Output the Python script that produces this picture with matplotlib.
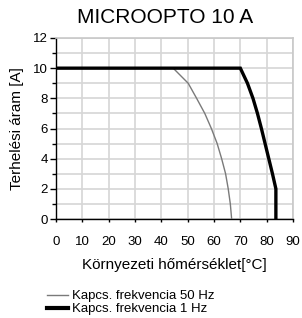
import numpy as np
import matplotlib
matplotlib.use("Agg")
import matplotlib.pyplot as plt
from matplotlib.lines import Line2D

plt.rcParams["font.family"] = ["Liberation Sans", "DejaVu Sans"]

# derating curves
temp_50hz = [0, 44.5, 50.2, 53.4, 56.5, 59.0, 61.2, 62.9, 64.4, 65.4, 66.2, 66.7]
curr_50hz = [10, 10, 9, 8, 7, 6, 5, 4, 3, 2, 1, 0]
temp_1hz = [0, 70, 72.7, 74.8, 76.5, 78.0, 79.4, 80.8, 82.2, 83.5, 83.5]
curr_1hz = [10, 10, 9, 8, 7, 6, 5, 4, 3, 2, 0]

labels = ["Kapcs. frekvencia 50 Hz", "Kapcs. frekvencia 1 Hz"]
xticks = list(range(0, 91, 10))
yticks = list(range(0, 13, 2))

fig = plt.figure(figsize=(3.02, 3.18), dpi=100)
ax = fig.add_axes([56 / 302, 1 - 219 / 318, 237 / 302, 181 / 318])

ax.plot(temp_50hz, curr_50hz, color="#7a7a7a", lw=1.0, zorder=3)
ax.plot(temp_1hz, curr_1hz, color="black", lw=2.4, zorder=4,
        solid_joinstyle="miter")

ax.set_xlim(0, 90)
ax.set_ylim(0, 12)
ax.set_xticks(xticks)
ax.set_yticks(yticks)
ax.set_yticks(range(1, 12, 2), minor=True)
ax.tick_params(axis="x", length=2.5, width=1, pad=10, labelsize=9.5)
ax.tick_params(axis="y", which="major", length=4, width=1, pad=2, labelsize=9.5)
ax.tick_params(axis="y", which="minor", length=3, width=1)
# grid after tick_params, otherwise it gets switched off again
ax.grid(True, which="both", color="#d6d6d6", lw=1.2)
ax.set_axisbelow(True)
for s in ("top", "right"):
    ax.spines[s].set_color("#c8c8c8")
    ax.spines[s].set_linewidth(1.2)
for s in ("left", "bottom"):
    ax.spines[s].set_linewidth(1.0)

ax.set_ylabel("Terhelési áram [A]", fontsize=11, labelpad=6)
ax.set_xlabel("Környezeti hőmérséklet[°C]", fontsize=11, labelpad=7)
fig.text(0.548, 0.945, "MICROOPTO 10 A", ha="center", va="center", fontsize=15)

handles = [Line2D([], [], color="#7a7a7a", lw=1.0),
           Line2D([], [], color="black", lw=3.0)]
fig.legend(handles, labels, loc="upper left", bbox_to_anchor=(0.156, 0.088),
           frameon=False, fontsize=9.5, handlelength=1.6, handletextpad=0.3,
           labelspacing=0.05, borderpad=0, borderaxespad=0)

fig.savefig("out.png", dpi=100)
